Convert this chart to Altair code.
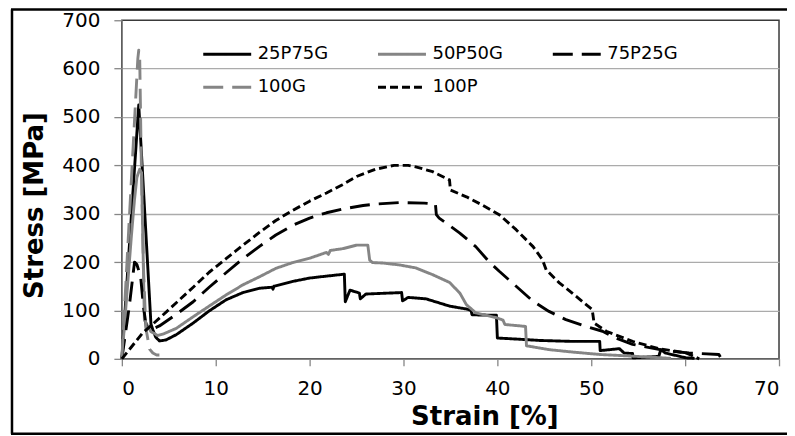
import altair as alt
import pandas as pd

series = ["25P75G", "50P50G", "75P25G", "100G", "100P"]
colors = ["#000000", "#858585", "#000000", "#858585", "#000000"]
dashes = [[1, 0], [1, 0], [20, 9], [20, 9], [8, 4]]

x_ticks = [0, 10, 20, 30, 40, 50, 60, 70]
y_ticks = [0, 100, 200, 300, 400, 500, 600, 700]

s25_x = [0, 1.8, 3.1, 3.3, 3.6, 4.0, 4.7, 5.8, 7.6, 9.3, 11.1, 12.9, 14.7, 16.0, 16.1, 16.2,
         18.2, 20.0, 21.8, 23.7, 23.8, 24.3, 25.3, 25.4, 26.0, 29.8, 29.9, 30.5, 32.4, 34.9,
         36.7, 37.2, 37.3, 39.9, 40.0, 41.9, 44.5, 48.0, 50.9, 50.95, 53.0, 53.5, 54.4, 54.45,
         57.2, 57.4, 57.9, 60.1, 61.0]
s25_y = [0, 525, 72, 60, 45, 37, 39, 50, 74, 99, 122, 137, 146, 148, 144, 150,
         160, 167, 171, 175, 118, 142, 136, 124, 134, 137, 120, 127, 124, 109,
         103, 100, 91, 90, 43, 41, 38, 36, 36, 17, 21, 12, 11, 2,
         5, 19, 12, 2, 1]

s50_x = [0, 1.0, 1.35, 1.6, 1.9, 2.1, 2.4, 3.1, 3.5, 3.8, 4.5, 5.8, 7.6, 9.3, 11.1, 12.9,
         14.7, 16.4, 18.2, 20.0, 21.8, 22.0, 22.2, 23.6, 25.0, 26.2, 26.4, 26.7, 27.8, 29.6,
         31.3, 33.1, 34.9, 36.0, 36.7, 37.7, 39.9, 40.6, 40.8, 43.0, 43.1, 45.5, 48.0, 50.9,
         54.4, 57.6, 58.5]
s50_y = [0, 250, 330, 375, 392, 385, 80, 56, 52, 48, 52, 63, 87, 109, 132, 153,
         170, 187, 199, 208, 220, 216, 224, 228, 235, 235, 204, 199, 198, 194,
         188, 174, 158, 136, 112, 95, 85, 80, 71, 67, 27, 19, 14, 9,
         5.5, 2, 1]

s75_x = [0, 0.8, 1.35, 1.6, 2.0, 2.3, 2.6, 3.3, 4.0, 5.8, 7.6, 9.3, 11.1, 12.9, 14.7, 16.4,
         18.2, 20.0, 21.8, 23.6, 25.7, 27.1, 29.6, 32.2, 33.4, 33.5, 33.8, 36.0, 37.7, 39.1,
         40.2, 42.0, 43.8, 45.5, 47.3, 49.1, 51.2, 52.6, 54.4, 56.2, 57.9, 60.4, 63.6, 63.8]
s75_y = [0, 110, 200, 195, 170, 108, 67, 62, 68, 92, 118, 148, 178, 207, 233, 256,
         276, 291, 302, 310, 317, 320, 323, 322, 320, 298, 291, 260, 232, 201,
         181, 150, 119, 98, 81, 69, 57, 43, 30, 23, 17, 12, 9, 2]

s100g_x = [0, 1.7, 1.8, 1.9, 2.05, 2.3, 2.55, 2.95, 3.3, 3.7, 4.0]
s100g_y = [0, 620, 638, 625, 430, 190, 65, 20, 12, 8, 8]

s100p_x = [0, 2.2, 4.0, 5.8, 7.6, 9.3, 11.1, 12.9, 14.7, 16.4, 18.2, 20.0, 21.8, 23.5, 25.0,
           27.0, 29.0, 30.5, 31.3, 33.1, 34.9, 35.0, 36.7, 38.4, 40.2, 42.0, 43.8, 44.8, 45.2,
           46.6, 48.4, 50.1, 50.3, 51.6, 54.4, 57.2, 60.1, 61.5]
s100p_y = [0, 53, 84, 116, 148, 179, 207, 235, 262, 286, 307, 326, 343, 360, 377,
           392, 400, 400, 397, 387, 370, 349, 335, 318, 298, 267, 232, 205, 184,
           157, 129, 102, 74, 57, 36, 21, 12, 0]

rows = []
for name, xs, ys in [("25P75G", s25_x, s25_y), ("50P50G", s50_x, s50_y),
                     ("75P25G", s75_x, s75_y), ("100G", s100g_x, s100g_y),
                     ("100P", s100p_x, s100p_y)]:
    for i, (a, b) in enumerate(zip(xs, ys)):
        rows.append({"series": name, "strain": a, "stress": b, "idx": i})
df = pd.DataFrame(rows)

legend = alt.Legend(
    title=None, orient="none", legendX=80, legendY=22, direction="horizontal",
    columns=3, columnPadding=48, rowPadding=9, clipHeight=24,
    symbolType="stroke", symbolSize=2304, symbolStrokeWidth=3,
    labelFont="DejaVu Sans", labelFontSize=18, labelColor="#000000",
    labelOffset=5, padding=0,
)

lines = alt.Chart(df).mark_line(strokeWidth=2.9, strokeJoin="round").encode(
    x=alt.X("strain:Q", scale=alt.Scale(domain=[0, 70], nice=False),
            axis=alt.Axis(values=x_ticks, title="Strain [%]", grid=False,
                          titleX=363, titleY=66, titleBaseline="alphabetic",
                          titleAlign="center", labelPadding=13, tickSize=7)),
    y=alt.Y("stress:Q", scale=alt.Scale(domain=[0, 700], nice=False),
            axis=alt.Axis(values=y_ticks, title="Stress [MPa]", grid=True,
                          gridOpacity=alt.condition("datum.value >= 700", alt.value(0), alt.value(1)),
                          titleX=-87, titleY=185, titleAngle=270, titleBaseline="middle",
                          titleAlign="center", labelPadding=14, tickSize=8)),
    color=alt.Color("series:N", scale=alt.Scale(domain=series, range=colors), legend=legend),
    strokeDash=alt.StrokeDash("series:N", scale=alt.Scale(domain=series, range=dashes), legend=legend),
    order=alt.Order("idx:Q"),
)

frame_df = pd.DataFrame({"k": [0]})
fb = alt.Chart(frame_df)
left = fb.mark_rule(color="#000000", strokeWidth=2.5).encode(
    x=alt.value(-110), y=alt.value(-10.75), y2=alt.value(414))
top = fb.mark_rule(color="#000000", strokeWidth=2.5).encode(
    x=alt.value(-111), x2=alt.value(680), y=alt.value(-10.75))
bottom = fb.mark_rule(color="#000000", strokeWidth=2.5).encode(
    x=alt.value(-111), x2=alt.value(680), y=alt.value(414))

chart = alt.layer(lines, left, top, bottom).properties(
    width=658, height=339,
    padding={"left": 114, "top": 12, "right": 8, "bottom": 77},
    autosize=alt.AutoSizeParams(type="none"),
).configure_view(
    stroke="#3a3a3a", strokeWidth=1.5
).configure_axis(
    domainColor="#868686", domainWidth=1.3,
    tickColor="#868686", tickWidth=1.3,
    gridColor="#ababab", gridWidth=1.3,
    labelFont="DejaVu Sans", labelFontSize=20, labelColor="#000000",
    titleFont="DejaVu Sans", titleFontSize=26, titleFontWeight="bold", titleColor="#000000",
)

chart.save("out.html", embed_options={"renderer": "svg", "actions": False})
